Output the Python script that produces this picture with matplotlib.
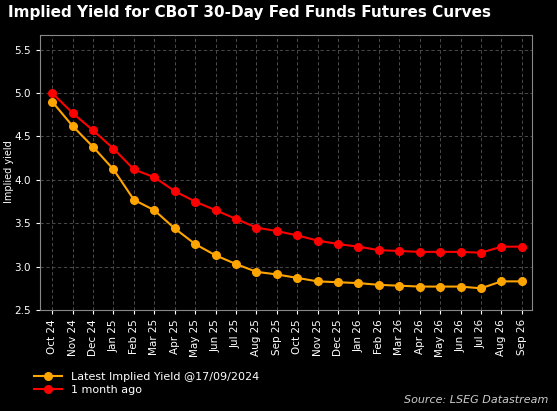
import matplotlib
matplotlib.use("Agg")
import matplotlib.pyplot as plt

months = ["Oct 24","Nov 24","Dec 24","Jan 25","Feb 25","Mar 25","Apr 25","May 25","Jun 25","Jul 25",
          "Aug 25","Sep 25","Oct 25","Nov 25","Dec 25","Jan 26","Feb 26","Mar 26","Apr 26","May 26",
          "Jun 26","Jul 26","Aug 26","Sep 26"]
latest = [4.90,4.62,4.38,4.12,3.77,3.65,3.44,3.26,3.13,3.03,2.94,2.91,2.87,2.83,2.82,2.81,2.79,2.78,2.77,2.77,2.77,2.75,2.83,2.83]
month_ago = [5.00,4.77,4.57,4.36,4.12,4.03,3.87,3.75,3.65,3.55,3.45,3.41,3.36,3.30,3.26,3.23,3.19,3.18,3.17,3.17,3.17,3.16,3.23,3.23]

fig = plt.figure(figsize=(5.57,4.11), dpi=100, facecolor="black")
ax = fig.add_axes([40/557, 1-310/411, 492/557, 275/411], facecolor="black")
x = range(len(months))
ax.plot(x, month_ago, color="#ff0000", marker="o", ms=5.5, lw=1.5, label="1 month ago")
ax.plot(x, latest, color="#ffa500", marker="o", ms=5.5, lw=1.5, label="Latest Implied Yield @17/09/2024")
ax.set_xlim(-0.6, 23.5)
ax.set_ylim(2.5, 5.67)
ax.set_yticks([2.5,3.0,3.5,4.0,4.5,5.0,5.5])
ax.set_xticks(list(x))
ax.set_xticklabels(months, rotation=90, color="white", fontsize=7.5)
ax.tick_params(colors="white", labelsize=7.5, length=3)
for t in ax.get_yticklabels(): t.set_color("white")
ax.grid(True, color="#555555", ls=(0,(4,3)), lw=0.6)
for s in ax.spines.values(): s.set_color("#888888")
fig.text(9/557, 1-172/411, "Implied yield", color="white", fontsize=7, rotation=90, ha="center", va="center")
fig.text(8/557, 1-12/411, "Implied Yield for CBoT 30-Day Fed Funds Futures Curves", color="white",
         fontsize=11, fontweight="bold", va="center")
h, l = ax.get_legend_handles_labels()
fig.legend(h[::-1], l[::-1], loc="lower left", bbox_to_anchor=(30/557, 12/411), frameon=False,
           fontsize=8, labelcolor="white", handlelength=2.5, borderaxespad=0, labelspacing=0.2)
fig.text(548/557, 1-400/411, "Source: LSEG Datastream", color="#cccccc", fontsize=8, style="italic",
         ha="right", va="center")
fig.savefig("out.png", dpi=100, facecolor="black")
